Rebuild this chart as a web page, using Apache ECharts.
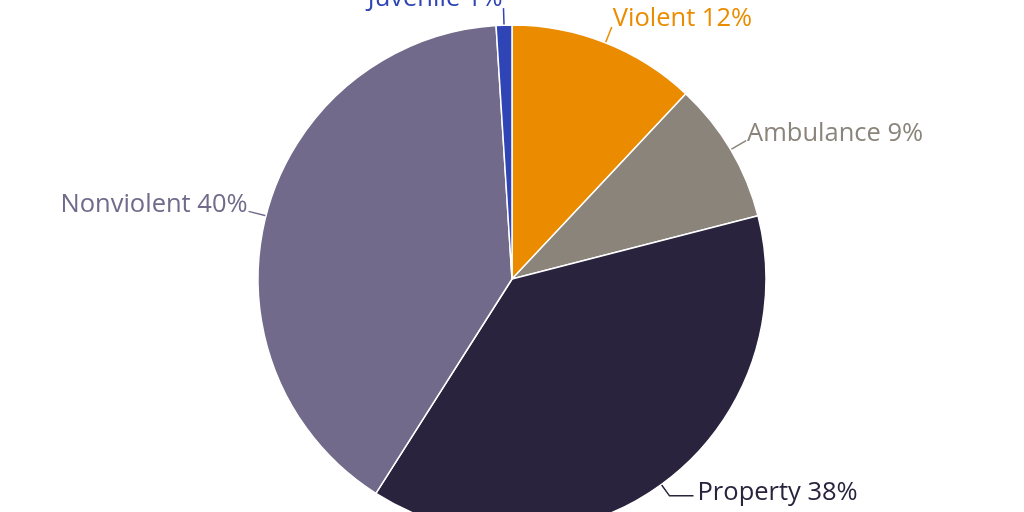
<!DOCTYPE html>
<html><head><meta charset="utf-8">
<script src="https://cdn.jsdelivr.net/npm/echarts@6/dist/echarts.min.js"></script>
<style>html,body{margin:0;padding:0;background:#fff}#c{width:1024px;height:512px}</style>
</head><body><div id="c"></div>
<script>
const categories = ['Violent', 'Ambulance', 'Property', 'Nonviolent', 'Juvenile'];
const values = [12, 9, 38, 40, 1];
const colors = ['#EB8C00', '#8B847B', '#29233D', '#716A8A', '#2F45B5'];

// label styling per slice (leader line lengths / label offsets)
const lineLen = [17, 18, 14, 18, 17];
const lineLen2 = [0, 0, 24, 0, 0];
const labelDy = [-8, -7, -3, -7, -9];

const chart = echarts.init(document.getElementById('c'));
chart.setOption({
  animation: false,
  series: [{
    type: 'pie',
    center: [512, 279],
    radius: 254,
    startAngle: 90,
    clockwise: true,
    avoidLabelOverlap: false,
    itemStyle: { borderColor: '#fff', borderWidth: 1.5 },
    label: {
      show: true,
      formatter: '{b} {c}%',
      fontFamily: 'Open Sans',
      fontSize: 25.5,
      distanceToLabelLine: 1
    },
    labelLine: { show: true, lineStyle: { width: 1.5 } },
    labelLayout: function (p) { return { dy: labelDy[p.dataIndex] }; },
    data: categories.map((n, i) => ({
      name: n, value: values[i],
      itemStyle: { color: colors[i] },
      label: { color: colors[i], distanceToLabelLine: i === 2 ? 4 : 1 },
      labelLine: { length: lineLen[i], length2: lineLen2[i], lineStyle: { color: colors[i] } }
    }))
  }]
});
</script></body></html>
